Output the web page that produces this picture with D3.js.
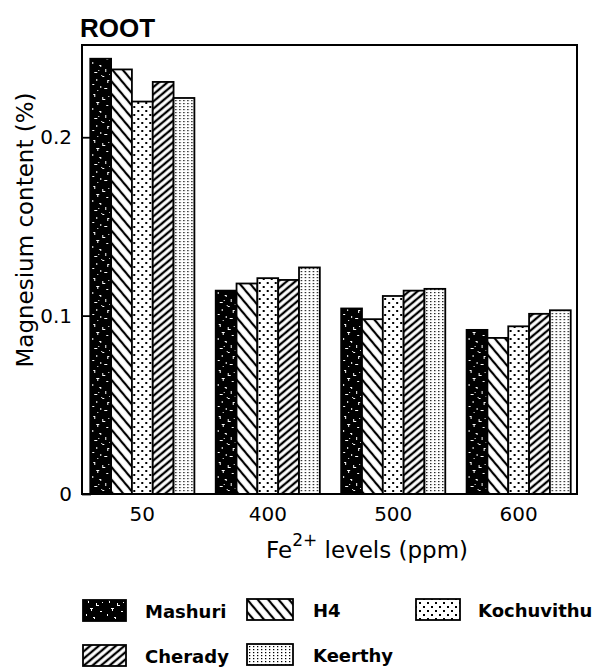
<!DOCTYPE html>
<html>
<head>
<meta charset="utf-8">
<script src="https://cdn.jsdelivr.net/npm/d3@7"></script>
<style>
  html, body { margin: 0; padding: 0; background: #fff; }
  svg { display: block; }
  text { fill: #000; }
</style>
</head>
<body>
<script>
// Magnesium content of roots for five rice varieties at four Fe2+ levels
const levels = ["50", "400", "500", "600"];
const varieties = ["Mashuri", "H4", "Kochuvithu", "Cherady", "Keerthy"];

const mashuri    = [0.244, 0.114, 0.104, 0.092];
const h4         = [0.238, 0.118, 0.098, 0.0875];
const kochuvithu = [0.220, 0.121, 0.111, 0.094];
const cherady    = [0.231, 0.120, 0.114, 0.101];
const keerthy    = [0.222, 0.127, 0.115, 0.103];

const yTicks = [0, 0.1, 0.2];
const yTickLabels = ["0", "0.1", "0.2"];

const seriesValues = [mashuri, h4, kochuvithu, cherady, keerthy];
const table = levels.map((lvl, i) => ({
  level: lvl,
  values: varieties.map((name, j) => ({ name, value: seriesValues[j][i] }))
}));

const W = 604, H = 669;
const plot = { left: 82, right: 577, top: 45, bottom: 494 };

const svg = d3.select("body").append("svg")
  .attr("width", W).attr("height", H);
const defs = svg.append("defs");

// ---- fill patterns, one per variety ----
function patternId(name) { return "pat-" + name.toLowerCase(); }

// Mashuri: solid black with irregular light flecks
{
  const p = defs.append("pattern").attr("id", patternId("Mashuri"))
    .attr("patternUnits", "userSpaceOnUse").attr("width", 21).attr("height", 46);
  p.append("rect").attr("width", 21).attr("height", 46).attr("fill", "#000");
  const flecks = [[3,2,2,1],[4,3,1,2],[12,5,1,3],[13,7,2,1],[6,10,3,1],[7,11,1,2],
                  [16,13,2,1],[2,16,1,2],[9,19,2,1],[10,20,1,1],[15,23,1,3],[4,26,3,1],
                  [18,4,1,1],[11,29,1,1],[12,30,2,1],[6,33,1,2],[17,34,2,1],[17,35,1,2],
                  [2,38,2,1],[10,40,1,2],[14,42,3,1],[7,44,1,1],[19,28,1,1],[8,24,1,1]];
  p.selectAll("rect.s").data(flecks).join("rect").attr("class", "s")
    .attr("x", d => d[0]).attr("y", d => d[1])
    .attr("width", d => d[2]).attr("height", d => d[3]).attr("fill", "#fff");
}
// H4: wide back-slash hatching
{
  const p = defs.append("pattern").attr("id", patternId("H4"))
    .attr("patternUnits", "userSpaceOnUse").attr("width", 8).attr("height", 8)
    .attr("patternTransform", "rotate(50)");
  p.append("rect").attr("width", 8).attr("height", 8).attr("fill", "#fff");
  p.append("line").attr("x1", 0).attr("x2", 8).attr("y1", 4).attr("y2", 4)
    .attr("stroke", "#000").attr("stroke-width", 2.2);
}
// Kochuvithu: sparse staggered dots
{
  const p = defs.append("pattern").attr("id", patternId("Kochuvithu"))
    .attr("patternUnits", "userSpaceOnUse").attr("width", 8).attr("height", 8)
    .attr("x", 1).attr("y", 0);
  p.append("rect").attr("width", 8).attr("height", 8).attr("fill", "#fff");
  p.append("rect").attr("x", 2).attr("y", 2).attr("width", 2).attr("height", 2).attr("fill", "#000");
  p.append("rect").attr("x", 6).attr("y", 6).attr("width", 2).attr("height", 2).attr("fill", "#000");
}
// Cherady: dense forward-slash hatching
{
  const p = defs.append("pattern").attr("id", patternId("Cherady"))
    .attr("patternUnits", "userSpaceOnUse").attr("width", 5.5).attr("height", 5.5)
    .attr("patternTransform", "rotate(-40)");
  p.append("rect").attr("width", 5.5).attr("height", 5.5).attr("fill", "#fff");
  p.append("line").attr("x1", 0).attr("x2", 5.5).attr("y1", 2.75).attr("y2", 2.75)
    .attr("stroke", "#000").attr("stroke-width", 2.3);
}
// Keerthy: fine dot grid in columns
{
  const p = defs.append("pattern").attr("id", patternId("Keerthy"))
    .attr("patternUnits", "userSpaceOnUse").attr("width", 4).attr("height", 3);
  p.append("rect").attr("width", 4).attr("height", 3).attr("fill", "#fff");
  p.append("rect").attr("x", 1).attr("y", 1).attr("width", 1.3).attr("height", 1.2).attr("fill", "#000");
}

// ---- scales ----
const x0 = d3.scaleBand().domain(levels)
  .range([plot.left + 2, plot.right]).paddingInner(0.17).paddingOuter(0.05);
const x1 = d3.scaleBand().domain(varieties).range([0, x0.bandwidth()]);
const y = d3.scaleLinear().domain([0, 0.2517]).range([plot.bottom, plot.top]);

// ---- bars ----
const groups = svg.append("g").selectAll("g").data(table).join("g")
  .attr("transform", d => `translate(${x0(d.level)},0)`);
groups.selectAll("rect").data(d => d.values).join("rect")
  .attr("x", d => x1(d.name))
  .attr("y", d => y(d.value))
  .attr("width", x1.bandwidth())
  .attr("height", d => y(0) - y(d.value))
  .attr("fill", d => `url(#${patternId(d.name)})`)
  .attr("stroke", "#000").attr("stroke-width", 1.8);

// ---- frame ----
svg.append("rect")
  .attr("x", plot.left).attr("y", plot.top)
  .attr("width", plot.right - plot.left).attr("height", plot.bottom - plot.top)
  .attr("fill", "none").attr("stroke", "#000").attr("stroke-width", 2);

// ---- axes ----
const yAxis = d3.axisLeft(y).tickValues(yTicks)
  .tickFormat((d, i) => yTickLabels[i])
  .tickSizeInner(-9).tickSizeOuter(0).tickPadding(10);
const gy = svg.append("g").attr("transform", `translate(${plot.left},0)`).call(yAxis);
gy.select(".domain").remove();
gy.selectAll(".tick line").attr("stroke", "#000").attr("stroke-width", 1.8);
gy.selectAll(".tick text")
  .attr("font-family", "DejaVu Sans, sans-serif").attr("font-size", 20).attr("fill", "#000");

const xAxis = d3.axisBottom(x0).tickSize(0).tickPadding(13);
const gx = svg.append("g").attr("transform", `translate(0,${plot.bottom})`).call(xAxis);
gx.select(".domain").remove();
gx.selectAll(".tick text")
  .attr("font-family", "DejaVu Sans, sans-serif").attr("font-size", 20).attr("fill", "#000");

// ---- titles ----
svg.append("text").attr("x", 80).attr("y", 37)
  .attr("font-family", "Liberation Sans, Arial, sans-serif")
  .attr("font-weight", "bold").attr("font-size", 26)
  .text("ROOT");

const xt = svg.append("text").attr("x", 266).attr("y", 558)
  .attr("font-family", "DejaVu Sans, sans-serif").attr("font-size", 23);
xt.append("tspan").text("Fe");
xt.append("tspan").attr("dy", -12).attr("font-size", 17).text("2+");
xt.append("tspan").attr("dy", 12).text(" levels (ppm)");

svg.append("text")
  .attr("transform", "translate(33,230) rotate(-90)")
  .attr("text-anchor", "middle")
  .attr("font-family", "DejaVu Sans, sans-serif").attr("font-size", 23)
  .text("Magnesium content (%)");

// ---- legend ----
const legendItems = [
  { name: "Mashuri",    sx: 83,  sy: 600, sw: 43, tx: 145 },
  { name: "H4",         sx: 247, sy: 599, sw: 46, tx: 313 },
  { name: "Kochuvithu", sx: 416, sy: 599, sw: 44, tx: 478 },
  { name: "Cherady",    sx: 83,  sy: 645, sw: 43, tx: 145 },
  { name: "Keerthy",    sx: 247, sy: 644, sw: 46, tx: 313 }
];
const lg = svg.append("g").selectAll("g").data(legendItems).join("g");
lg.append("rect")
  .attr("x", d => d.sx).attr("y", d => d.sy)
  .attr("width", d => d.sw).attr("height", 21)
  .attr("fill", d => `url(#${patternId(d.name)})`)
  .attr("stroke", "#000").attr("stroke-width", 1.8);
lg.append("text")
  .attr("x", d => d.tx).attr("y", d => d.sy + 18)
  .attr("font-family", "DejaVu Sans, sans-serif").attr("font-weight", "bold")
  .attr("font-size", 18)
  .text(d => d.name);
</script>
</body>
</html>
